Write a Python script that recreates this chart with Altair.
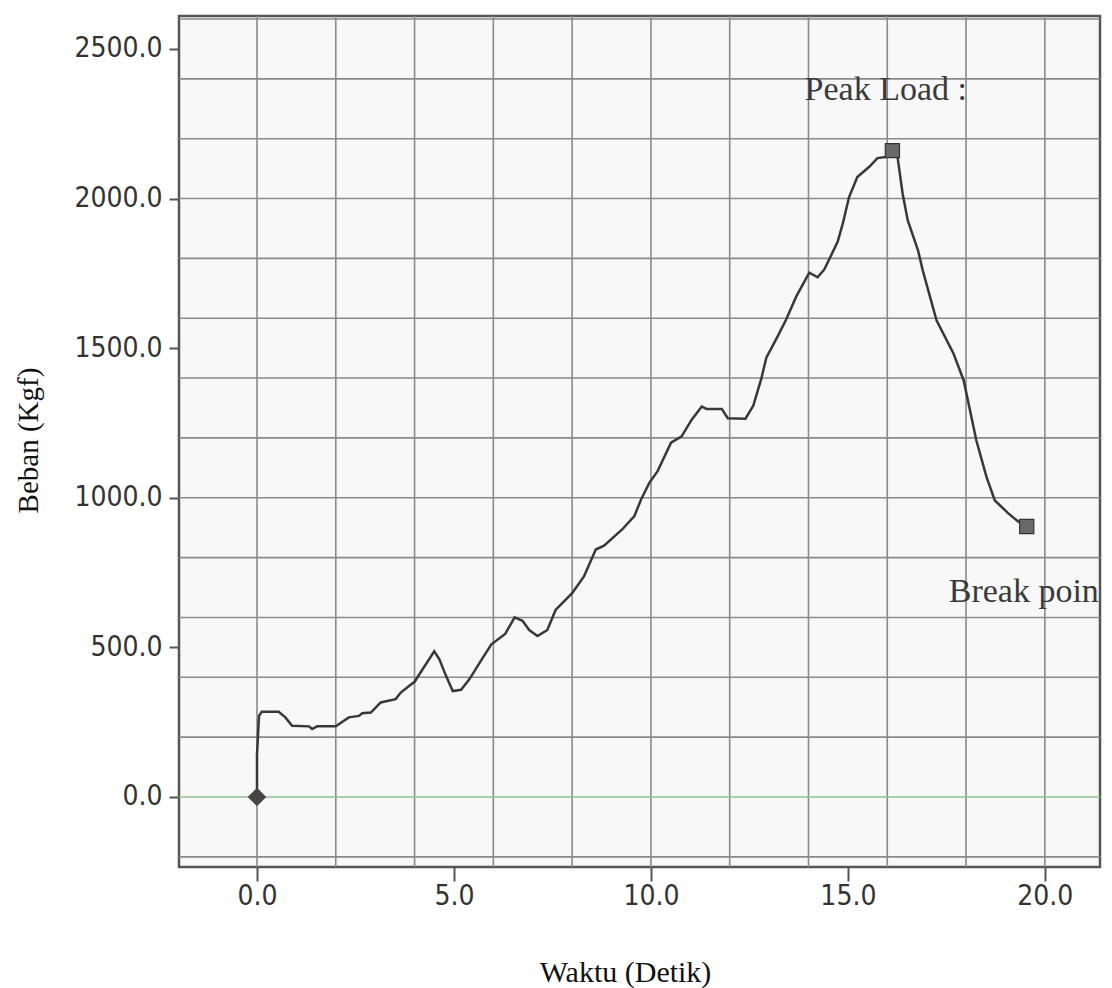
import altair as alt
import pandas as pd

# Time (s) and load (kgf)
t = [0.00, 0.00, 0.05, 0.12, 0.55, 0.72, 0.89, 1.32, 1.40, 1.53, 2.00, 2.33, 2.59, 2.67,
     2.89, 3.14, 3.52, 3.65, 3.86, 4.00, 4.20, 4.50, 4.63, 4.80, 4.97, 5.18, 5.39, 5.73,
     5.95, 6.30, 6.54, 6.74, 6.91, 7.12, 7.37, 7.58, 8.00, 8.30, 8.60, 8.81, 9.27, 9.58,
     9.75, 9.96, 10.17, 10.51, 10.78, 11.03, 11.29, 11.41, 11.80, 11.95, 12.40, 12.60,
     12.80, 12.93, 13.22, 13.43, 13.69, 14.02, 14.23, 14.40, 14.74, 14.87, 15.03, 15.24,
     15.55, 15.75, 16.02, 16.13, 16.26, 16.39, 16.52, 16.78, 16.90, 17.25, 17.68, 17.94,
     18.26, 18.52, 18.73, 19.08, 19.34, 19.54]
load = [0, 140, 270, 285, 285, 266, 238, 236, 227, 236, 236, 266, 271, 280,
        282, 316, 327, 349, 371, 385, 426, 487, 460, 404, 354, 358, 393, 465,
        510, 545, 600, 589, 558, 538, 558, 625, 681, 737, 827, 840, 894, 939,
        994, 1050, 1089, 1184, 1205, 1260, 1305, 1297, 1297, 1266, 1264, 1308,
        1397, 1468, 1540, 1595, 1673, 1752, 1737, 1763, 1855, 1916, 2005, 2072,
        2107, 2135, 2140, 2160, 2139, 2016, 1927, 1827, 1760, 1593, 1482, 1392,
        1192, 1069, 991, 947, 919, 904]

start_t = [0.0]
start_load = [0.0]
marks_t = [16.13, 19.54]
marks_load = [2160, 904]

annot_text = ["Peak Load :", "Break point"]
annot_t = [13.9, 17.56]
annot_load = [2330, 650]

x_ticks = [0, 5, 10, 15, 20]
y_ticks = [0, 500, 1000, 1500, 2000, 2500]
x_grid = [0, 2, 4, 6, 8, 10, 12, 14, 16, 18, 20]
y_grid = [-200, 200, 400, 600, 800, 1000, 1200, 1400, 1600, 1800, 2000, 2200, 2400, 2600]
y_grid_zero = [0]

X_DOM = [-1.98, 21.4]
Y_DOM = [-234, 2610]

LABEL_FONT = "DejaVu Sans Condensed, sans-serif"
TITLE_FONT = "Liberation Serif, Times New Roman, serif"

xs = alt.Scale(domain=X_DOM, nice=False, zero=False)
ys = alt.Scale(domain=Y_DOM, nice=False, zero=False)

X_AXIS = alt.Axis(
    values=x_ticks, format=".1f", grid=False, domain=False,
    tickSize=14, tickWidth=2, tickColor="#555555",
    labelFont=LABEL_FONT, labelFontSize=28, labelColor="#333333",
    labelPadding=1,
    title="Waktu (Detik)", titleFont=TITLE_FONT, titleFontSize=30,
    titleFontWeight="normal", titleColor="#111111",
    titleX=446, titleY=114, titleBaseline="alphabetic",
    titleAnchor="middle", titleAlign="center",
)
Y_AXIS = alt.Axis(
    values=y_ticks, format=".1f", grid=False, domain=False,
    tickSize=10, tickWidth=2, tickColor="#555555",
    labelFont=LABEL_FONT, labelFontSize=28, labelColor="#333333",
    labelPadding=7,
    title="Beban (Kgf)", titleFont=TITLE_FONT, titleFontSize=29,
    titleFontWeight="normal", titleColor="#111111",
    titleAngle=270, titleX=-151, titleY=424, titleBaseline="middle",
    titleAlign="center",
)


def X(field):
    return alt.X(field, scale=xs, axis=X_AXIS)


def Y(field):
    return alt.Y(field, scale=ys, axis=Y_AXIS)


df = pd.DataFrame({"t": t, "load": load})

xgrid = alt.Chart(pd.DataFrame({"g": x_grid})).mark_rule(
    color="#8a8a8a", strokeWidth=1.6
).encode(x=X("g:Q"))

ygrid = alt.Chart(pd.DataFrame({"g": y_grid})).mark_rule(
    color="#8a8a8a", strokeWidth=1.6
).encode(y=Y("g:Q"))

yzero = alt.Chart(pd.DataFrame({"g": y_grid_zero})).mark_rule(
    color="#8fc48f", strokeWidth=1.6
).encode(y=Y("g:Q"))

line = alt.Chart(df).mark_line(color="#383838", strokeWidth=2.5).encode(
    x=X("t:Q"), y=Y("load:Q")
)

start = alt.Chart(pd.DataFrame({"t": start_t, "load": start_load})).mark_point(
    shape="diamond", filled=True, size=340, color="#444444", opacity=1
).encode(x=X("t:Q"), y=Y("load:Q"))

sq = alt.Chart(pd.DataFrame({"t": marks_t, "load": marks_load})).mark_square(
    size=200, color="#6a6a6a", stroke="#333333", strokeWidth=1.2, opacity=1, filled=True
).encode(x=X("t:Q"), y=Y("load:Q"))

annot = alt.Chart(pd.DataFrame({"txt": annot_text, "t": annot_t, "load": annot_load})).mark_text(
    align="left", baseline="alphabetic", font=TITLE_FONT, fontSize=34,
    color="#3a3a3a", clip=True
).encode(x=X("t:Q"), y=Y("load:Q"), text="txt:N")

chart = alt.layer(xgrid, ygrid, yzero, line, start, sq, annot).properties(
    width=921, height=851,
    autosize=alt.AutoSizeParams(type="none"),
    padding={"left": 179, "top": 16, "right": 12, "bottom": 121},
    background="white",
).configure_view(
    fill="#f8f8f8", stroke="#555555", strokeWidth=2.5
)

chart.save("out.html", embed_options={"renderer": "svg", "actions": False})
